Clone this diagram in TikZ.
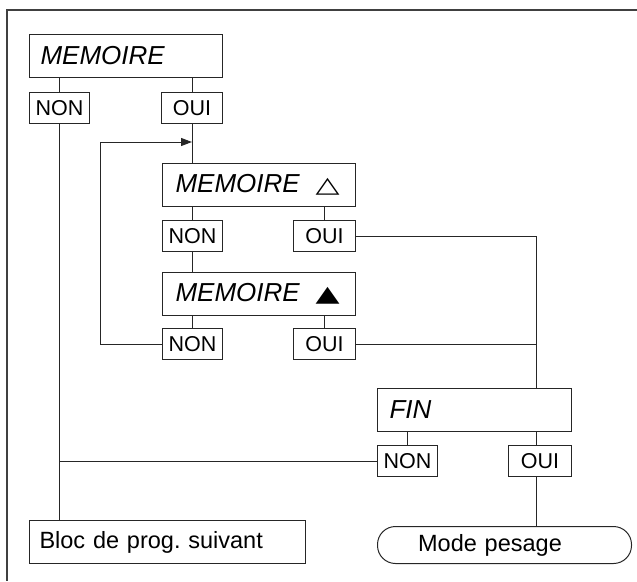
\documentclass[tikz,border=0pt]{standalone}
\usepackage{fontspec}
\setmainfont{Liberation Sans}
\newfontfamily\dejavu{DejaVu Sans}
\usetikzlibrary{arrows.meta}
\frenchspacing
\tikzset{
  ln/.style={line width=1pt, draw=black!85},
  bigbox/.style={ln, anchor=north west, minimum height=43pt, inner ysep=0pt, inner xsep=11pt, text width=171pt, align=left, font=\fontsize{26}{30}\selectfont\itshape},
  yn/.style={ln, anchor=north west, minimum height=31pt, inner sep=0pt, font=\fontsize{21.5}{25}\selectfont},
  endbox/.style={ln, anchor=north west, minimum height=43pt, inner ysep=0pt, align=left, font=\fontsize{23.5}{27}\selectfont},
}
\newcommand{\tri}[1]{\hspace{16pt}{\dejavu\upshape\scalebox{1.2}[0.85]{#1}}}
\begin{document}
\begin{tikzpicture}[x=1pt,y=-1pt]
\useasboundingbox (0,0) rectangle (637,581);
% frame
\draw[line width=1.4pt, draw=black!75] (637,10) -- (7,10) -- (7,581);

% nodes
\node[bigbox] (m1) at (29,34) {\raisebox{-2pt}{MEMOIRE}};
\node[yn, minimum width=60pt] (n1) at (29,92) {NON};
\node[yn, minimum width=61pt] (o1) at (161,92) {OUI};

\node[bigbox, inner xsep=13pt, text width=167pt] (m2) at (162,163) {MEMOIRE\tri{△}};
\node[yn, minimum width=60pt] (n2) at (162,220) {NON};
\node[yn, minimum width=62pt] (o2) at (293,220) {OUI};

\node[bigbox, inner xsep=13pt, text width=167pt] (m3) at (162,272) {MEMOIRE\tri{▲}};
\node[yn, minimum width=60pt] (n3) at (162,328) {NON};
\node[yn, minimum width=62pt] (o3) at (293,328) {OUI};

\node[bigbox, inner xsep=12pt, text width=170pt] (fin) at (377,388) {FIN};
\node[yn, minimum width=60pt] (n4) at (377,445) {NON};
\node[yn, minimum width=63pt] (o4) at (508,445) {OUI};

\node[endbox, inner xsep=10pt, text width=256pt] (bloc) at (29,520) {Bloc de prog. suivant};
\node[endbox, rounded corners=18pt, minimum height=37pt, inner xsep=0pt, text width=254pt, align=center] (mode) at (377,526) {\hspace{-29pt}Mode pesage};

\coordinate (jx) at (536,0);
\coordinate (lp) at (100,142);

% connectors
\draw[ln] (n1.north) -- (n1.north |- m1.south);
\draw[ln] (o1.north) -- (o1.north |- m1.south);
\draw[ln] (n1.south) -- (n1.south |- bloc.north);
\draw[ln] (o1.south) -- (o1.south |- m2.north);
\draw[ln] (n2.north) -- (n2.north |- m2.south);
\draw[ln] (o2.north) -- (o2.north |- m2.south);
\draw[ln] (n2.south) -- (n2.south |- m3.north);
\draw[ln] (n3.north) -- (n3.north |- m3.south);
\draw[ln] (o3.north) -- (o3.north |- m3.south);
\draw[ln, -{Triangle[length=11pt,width=8pt]}] (n3.west) -| (lp) -- (o1.south |- lp);
\draw[ln] (o2.east) -| (jx |- fin.north);
\draw[ln] (o3.east) -- (o3.east -| jx);
\draw[ln] (n4.north) -- (n4.north |- fin.south);
\draw[ln] (jx |- o4.north) -- (jx |- fin.south);
\draw[ln] (n4.west) -- (n4.west -| n1.south);
\draw[ln] (jx |- o4.south) -- (jx |- mode.north);
\end{tikzpicture}
\end{document}
